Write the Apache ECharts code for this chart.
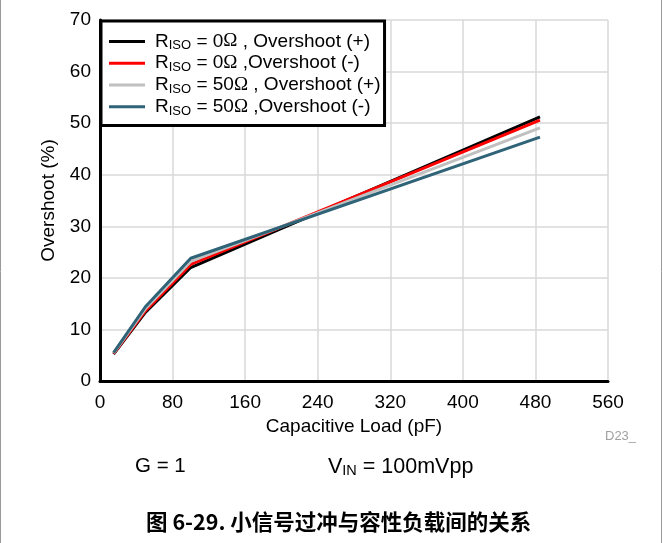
<!DOCTYPE html>
<html>
<head>
<meta charset="utf-8">
<script src="https://cdn.jsdelivr.net/npm/echarts@6/dist/echarts.min.js"></script>
<style>
html,body{margin:0;padding:0;background:#fff;}
#c{width:663px;height:543px;}
</style>
</head>
<body>
<div id="c"></div>
<script>
const capLoad = [15, 50, 100, 485];
const r0Pos = [5.2, 13.3, 22.0, 51.2];
const r0Neg = [5.3, 13.6, 22.6, 50.6];
const r50Pos = [5.4, 14.0, 23.2, 49.1];
const r50Neg = [5.5, 14.4, 23.8, 47.3];
const seriesNames = ['r0p', 'r0n', 'r50p', 'r50n'];
const seriesOhms = ['0', '0', '50', '50'];
const seriesTails = [' , Overshoot (+)', ' ,Overshoot (-)', ' , Overshoot (+)', ' ,Overshoot (-)'];
const seriesColors = ['#000000', '#ff0000', '#c0c0c0', '#2f6378'];

const FONT = '"Liberation Sans", Arial, Helvetica, sans-serif';
const SERIF = '"Liberation Serif", "Times New Roman", serif';
const FS = 19;
const allVals = [r0Pos, r0Neg, r50Pos, r50Neg];

const chart = echarts.init(document.getElementById('c'), null, {renderer: 'canvas'});
const idx = {};
seriesNames.forEach((n, i) => idx[n] = i);

const option = {
  backgroundColor: '#fff',
  animation: false,
  grid: {left: 100, right: 55, top: 20, bottom: 162, containLabel: false},
  xAxis: {
    type: 'value', min: 0, max: 560, interval: 80,
    name: 'Capacitive Load (pF)', nameLocation: 'middle', nameGap: 32,
    nameTextStyle: {fontFamily: FONT, fontSize: FS, color: '#000'},
    axisLine: {show: true, onZero: false, lineStyle: {color: '#000', width: 3}},
    axisTick: {show: false},
    axisLabel: {fontFamily: FONT, fontSize: FS, color: '#000', margin: 12},
    splitLine: {show: true, lineStyle: {color: '#d9d9d9', width: 1.5}}
  },
  yAxis: {
    type: 'value', min: 0, max: 70, interval: 10,
    name: 'Overshoot (%)', nameLocation: 'middle', nameGap: 42,
    nameTextStyle: {fontFamily: FONT, fontSize: FS, color: '#000'},
    axisLine: {show: true, onZero: false, lineStyle: {color: '#000', width: 3}},
    axisTick: {show: false},
    axisLabel: {fontFamily: FONT, fontSize: FS, color: '#000', margin: 9},
    splitLine: {show: true, lineStyle: {color: '#d9d9d9', width: 1.5}}
  },
  legend: {
    orient: 'vertical',
    left: 101, top: 21,
    padding: [11, 4, 8, 8],
    backgroundColor: '#fff',
    borderColor: '#000',
    borderWidth: 3,
    borderRadius: 0,
    itemWidth: 36,
    itemHeight: 3,
    itemGap: 1.5,
    data: seriesNames.map(n => ({name: n, icon: 'rect'})),
    formatter: n => '{r|R}{s|ISO}{a| = ' + seriesOhms[idx[n]] + '}{o|Ω}{a|' + seriesTails[idx[n]] + '}',
    textStyle: {
      fontFamily: FONT, fontSize: FS, color: '#000',
      rich: {
        r: {fontFamily: FONT, fontSize: FS, color: '#000', lineHeight: 21.5, padding: [0, 0, 0, 5]},
        a: {fontFamily: FONT, fontSize: FS, color: '#000', lineHeight: 21.5},
        o: {fontFamily: SERIF, fontSize: FS, color: '#000', lineHeight: 21.5},
        s: {fontFamily: FONT, fontSize: 13, color: '#000', verticalAlign: 'bottom', padding: [7, 0, 0, 0]}
      }
    }
  },
  series: seriesNames.map((n, i) => ({
    name: n,
    type: 'line',
    symbol: 'none',
    data: capLoad.map((x, j) => [x, allVals[i][j]]),
    lineStyle: {color: seriesColors[i], width: 3},
    itemStyle: {color: seriesColors[i]}
  })),
  graphic: [
    {type: 'line', shape: {x1: 0.5, y1: 0, x2: 0.5, y2: 543}, style: {stroke: '#999', lineWidth: 1}},
    {type: 'line', shape: {x1: 661.5, y1: 0, x2: 661.5, y2: 543}, style: {stroke: '#999', lineWidth: 1}},
    {type: 'text', left: 605, top: 430, style: {text: 'D23_', fontFamily: FONT, fontSize: 13, fill: '#a0a0a0'}},
    {type: 'text', left: 135, top: 456, style: {text: 'G = 1', fontFamily: FONT, fontSize: 20.5, fill: '#000'}},
    {type: 'text', left: 328, top: 456, style: {
      text: '{a|V}{s|IN}{a| = 100mVpp}', fontFamily: FONT, fill: '#000',
      rich: {
        a: {fontFamily: FONT, fontSize: 21.5, fill: '#000', color: '#000'},
        s: {fontFamily: FONT, fontSize: 14.5, fill: '#000', color: '#000', verticalAlign: 'bottom', padding: [8, 0, 0, 0]}
      }
    }},
    {type: 'text', left: 146, top: 511, style: {
      text: '图 6-29. 小信号过冲与容性负载间的关系',
      fontFamily: '"Noto Sans CJK SC", "Liberation Sans", sans-serif',
      fontSize: 21.5, fontWeight: 'bold', fill: '#000'
    }}
  ]
};
chart.setOption(option);
</script>
</body>
</html>
